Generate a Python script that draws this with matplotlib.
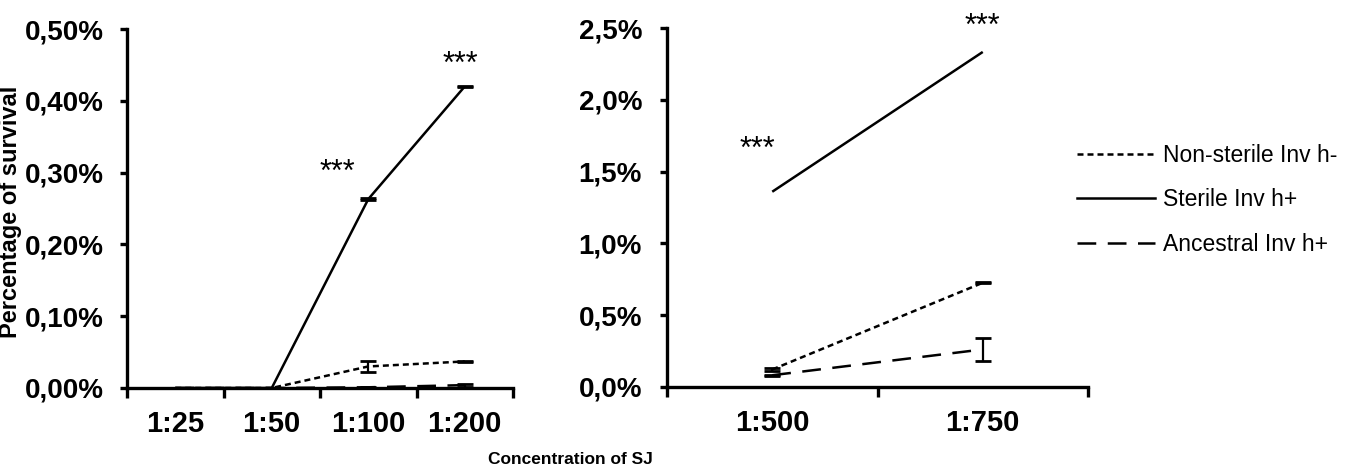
import numpy as np
import matplotlib
matplotlib.use("Agg")
import matplotlib.pyplot as plt
from matplotlib.ticker import FuncFormatter, FixedLocator
from matplotlib.lines import Line2D

plt.rcParams['font.family'] = ['Liberation Sans', 'DejaVu Sans']

# ── Data (percent survival) ────────────────────────────────────────────────────
cats_left       = ['1:25', '1:50', '1:100', '1:200']
nonsterile_left = [0.0, 0.0, 0.030, 0.037]
nonsterile_left_err = [0.0, 0.0, 0.008, 0.001]
sterile_left    = [0.0, 0.0, 0.263, 0.420]
sterile_left_err = [0.0, 0.0, 0.001, 0.001]
ancestral_left  = [0.0, 0.0, 0.001, 0.004]
ancestral_left_err = [0.0, 0.0, 0.001, 0.002]

cats_right       = ['1:500', '1:750']
nonsterile_right = [0.12, 0.725]
nonsterile_right_err = [0.01, 0.005]
sterile_right    = [1.36, 2.335]
ancestral_right  = [0.08, 0.26]
ancestral_right_err = [0.005, 0.08]

stars_left  = [(1.68, 0.30), (2.95, 0.45)]
stars_right = [(-0.07, 1.65), (1.0, 2.51)]

# ── Styles ──────────────────────────────────────────────────────────────────────
LW = 1.8
STY_NON = dict(color='black', lw=LW, dashes=(2.4, 1.6))
STY_STE = dict(color='black', lw=LW, ls='-')
STY_ANC = dict(color='black', lw=LW, dashes=(7.5, 4.6))


def line(ax, x, y, err, sty):
    ax.plot(x, y, **sty, solid_capstyle='butt', dash_capstyle='butt',
            clip_on=False, zorder=3)
    if err is not None:
        ax.errorbar(x, y, yerr=err, fmt='none', ecolor='black', elinewidth=1.6,
                    capsize=6, capthick=2.0, clip_on=False, zorder=3)


def style_axis(ax, cats, ymax, ystep, fmt, ypad):
    n = len(cats)
    ax.set_xlim(-0.5, n - 0.5)
    ax.set_ylim(0, ymax)
    for s in ['top', 'right']:
        ax.spines[s].set_visible(False)
    for s in ['left', 'bottom']:
        ax.spines[s].set_linewidth(2.4)
    ax.xaxis.set_major_locator(FixedLocator(np.arange(-0.5, n, 1.0)))
    ax.xaxis.set_minor_locator(FixedLocator(np.arange(n)))
    ax.set_xticklabels([], minor=False)
    ax.set_xticklabels(cats, minor=True, fontsize=21, fontweight='bold')
    ax.tick_params(axis='x', which='major', direction='out', length=7, width=2.4)
    ax.tick_params(axis='x', which='minor', length=0, pad=16)
    ax.set_yticks(np.arange(0, ymax + ystep / 2, ystep))
    ax.yaxis.set_major_formatter(FuncFormatter(fmt))
    ax.tick_params(axis='y', direction='out', length=5, width=2.4, pad=ypad,
                   labelsize=20)
    for lab in ax.get_yticklabels():
        lab.set_fontweight('bold')


fig = plt.figure(figsize=(13.45, 4.72), dpi=100)

# ── Left panel ─────────────────────────────────────────────────────────────────
ax1 = fig.add_axes([127 / 1345, 1 - 388 / 472, (513 - 127) / 1345, (388 - 29) / 472])
xl = np.arange(len(cats_left))
line(ax1, xl, nonsterile_left, nonsterile_left_err, STY_NON)
line(ax1, xl, sterile_left, sterile_left_err, STY_STE)
line(ax1, xl, ancestral_left, ancestral_left_err, STY_ANC)
style_axis(ax1, cats_left, 0.5, 0.1,
           lambda v, p: f"{v:.2f}%".replace('.', ','), 12)
for sx, sy in stars_left:
    ax1.text(sx, sy, '***', fontsize=22, ha='center', va='center')

# ── Right panel ────────────────────────────────────────────────────────────────
ax2 = fig.add_axes([667 / 1345, 1 - 386.7 / 472, (1088 - 667) / 1345, (386.7 - 28.3) / 472])
xr = np.arange(len(cats_right))
line(ax2, xr, nonsterile_right, nonsterile_right_err, STY_NON)
line(ax2, xr, sterile_right, None, STY_STE)
line(ax2, xr, ancestral_right, ancestral_right_err, STY_ANC)
style_axis(ax2, cats_right, 2.5, 0.5,
           lambda v, p: f"{v:.1f}%".replace('.', ','), 13)
for sx, sy in stars_right:
    ax2.text(sx, sy, '***', fontsize=22, ha='center', va='center', clip_on=False)

# ── Labels & legend ────────────────────────────────────────────────────────────
fig.text(570 / 1345, 1 - 460 / 472, 'Concentration of SJ', fontsize=12.5,
         fontweight='bold', ha='center', va='center')
fig.text(11 / 1345, 1 - 212 / 472, 'Percentage of survival', fontsize=17,
         fontweight='bold', rotation=90, ha='center', va='center')

handles = [Line2D([], [], **STY_NON), Line2D([], [], **STY_STE),
           Line2D([], [], **STY_ANC)]
labels = ['Non-sterile Inv h-', 'Sterile Inv h+', 'Ancestral Inv h+']
fig.legend(handles, labels, loc='center left',
           bbox_to_anchor=(1077 / 1345, 1 - 200 / 472), frameon=False,
           fontsize=16.5, handlelength=3.4, handletextpad=0.35, labelspacing=0.92,
           borderaxespad=0, borderpad=0)

plt.savefig("out.png", dpi=100)
